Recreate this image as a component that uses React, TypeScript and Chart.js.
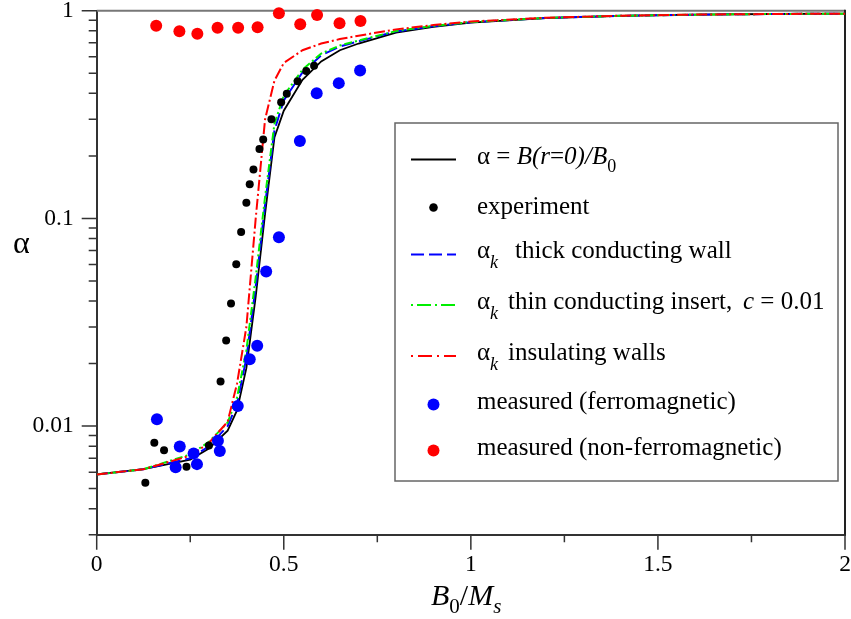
import React, { useEffect, useRef } from "react";
import { Chart, registerables } from "chart.js";

Chart.register(...registerables);

// Theoretical curves, sampled at these values of B0/Ms
const fieldRatio = [0, 0.125, 0.25, 0.3, 0.35, 0.375, 0.4, 0.425, 0.45, 0.475, 0.5, 0.55, 0.6, 0.65, 0.7, 0.8, 0.9, 1.0, 1.2, 1.4, 1.6, 1.8, 2.0];
const alphaAxis = [0.00585, 0.0062, 0.0069, 0.0078, 0.0095, 0.0119, 0.019, 0.042, 0.105, 0.245, 0.33, 0.465, 0.57, 0.645, 0.695, 0.785, 0.835, 0.876, 0.92, 0.944, 0.957, 0.964, 0.968];
const alphaThickWall = [0.00585, 0.0062, 0.007, 0.008, 0.01, 0.0128, 0.0212, 0.047, 0.116, 0.265, 0.37, 0.505, 0.61, 0.672, 0.712, 0.795, 0.842, 0.88, 0.922, 0.945, 0.957, 0.964, 0.968];
const alphaThinInsert = [0.00585, 0.0062, 0.0073, 0.0084, 0.0104, 0.0137, 0.0232, 0.052, 0.127, 0.285, 0.39, 0.52, 0.622, 0.68, 0.718, 0.798, 0.845, 0.882, 0.923, 0.945, 0.957, 0.964, 0.968];
const alphaInsulating = [0.00585, 0.0062, 0.0072, 0.0083, 0.0105, 0.016, 0.03, 0.1, 0.3, 0.46, 0.56, 0.645, 0.695, 0.73, 0.758, 0.813, 0.853, 0.887, 0.925, 0.946, 0.958, 0.964, 0.968];

// Measurements
const experimentB = [0.13, 0.154, 0.18, 0.24, 0.3, 0.331, 0.346, 0.359, 0.373, 0.386, 0.4, 0.409, 0.419, 0.435, 0.445, 0.467, 0.493, 0.508, 0.537, 0.56, 0.581];
const experimentAlpha = [0.00533, 0.00832, 0.00766, 0.00637, 0.00807, 0.0164, 0.0258, 0.0389, 0.0601, 0.0861, 0.119, 0.146, 0.172, 0.216, 0.24, 0.3, 0.362, 0.398, 0.458, 0.512, 0.543];
const ferroB = [0.161, 0.211, 0.222, 0.259, 0.268, 0.324, 0.329, 0.377, 0.409, 0.429, 0.453, 0.487, 0.543, 0.588, 0.647, 0.704];
const ferroAlpha = [0.0108, 0.00634, 0.00798, 0.00739, 0.00656, 0.00851, 0.00758, 0.01248, 0.021, 0.0244, 0.0555, 0.0812, 0.236, 0.4, 0.448, 0.516];
const nonFerroB = [0.159, 0.221, 0.269, 0.323, 0.378, 0.43, 0.487, 0.544, 0.589, 0.649, 0.705];
const nonFerroAlpha = [0.847, 0.796, 0.775, 0.828, 0.828, 0.832, 0.972, 0.86, 0.953, 0.87, 0.892];

// Axis ticks
const xMajorTicks = [0, 0.5, 1, 1.5, 2];
const xTickLabels = ["0", "0.5", "1", "1.5", "2"];
const xMinorTicks = [0.25, 0.75, 1.25, 1.75];
const yMajorTicks = [0.01, 0.1, 1];
const yTickLabels = ["0.01", "0.1", "1"];
const yMinorTicks = [
  0.003, 0.004, 0.005, 0.006, 0.007, 0.008, 0.009,
  0.02, 0.03, 0.04, 0.05, 0.06, 0.07, 0.08, 0.09,
  0.2, 0.3, 0.4, 0.5, 0.6, 0.7, 0.8, 0.9,
];

const SERIF = "'Liberation Serif', 'Times New Roman', serif";
const BLUE = "#0000ff";
const GREEN = "#00ee00";
const RED = "#ff0000";

const DASH_THICK = [13, 5];
const DASH_THIN = [8, 3, 2, 3];
const DASH_INSUL = [11, 3, 2, 3];

type Run = { t: string; italic?: boolean; size?: number; dy?: number; at?: number };

function drawRuns(ctx: CanvasRenderingContext2D, x: number, y: number, runs: Run[]) {
  let cx = x;
  for (const r of runs) {
    if (r.at !== undefined) cx = r.at;
    ctx.font = `${r.italic ? "italic " : ""}${r.size ?? 25}px ${SERIF}`;
    ctx.fillText(r.t, cx, y + (r.dy ?? 0));
    cx += ctx.measureText(r.t).width;
  }
}

const pts = (xs: number[], ys: number[]) => xs.map((x, i) => ({ x, y: ys[i] }));

const framePlugin = {
  id: "frameTicks",
  beforeDatasetsDraw(chart: any) {
    const { ctx, chartArea } = chart;
    const { left, right, top, bottom } = chartArea;
    const xs = chart.scales.x;
    const ys = chart.scales.y;
    ctx.save();
    // top edge of the frame
    ctx.strokeStyle = "#777";
    ctx.lineWidth = 2;
    ctx.beginPath();
    ctx.moveTo(left, top);
    ctx.lineTo(right, top);
    ctx.stroke();
    // right edge
    ctx.strokeStyle = "#222";
    ctx.beginPath();
    ctx.moveTo(right, top - 1);
    ctx.lineTo(right, bottom);
    ctx.stroke();
    // tick marks, outside the plot
    ctx.strokeStyle = "#333";
    ctx.lineWidth = 1.5;
    ctx.beginPath();
    for (const v of xMajorTicks) {
      const p = xs.getPixelForValue(v);
      ctx.moveTo(p, bottom);
      ctx.lineTo(p, bottom + 15);
    }
    for (const v of xMinorTicks) {
      const p = xs.getPixelForValue(v);
      ctx.moveTo(p, bottom);
      ctx.lineTo(p, bottom + 7.5);
    }
    for (const v of yMajorTicks) {
      const p = ys.getPixelForValue(v);
      ctx.moveTo(left - 15, p);
      ctx.lineTo(left, p);
    }
    for (const v of yMinorTicks) {
      const p = ys.getPixelForValue(v);
      ctx.moveTo(left - 8, p);
      ctx.lineTo(left, p);
    }
    ctx.stroke();
    ctx.restore();
  },
  afterDraw(chart: any) {
    const { ctx } = chart;
    ctx.save();
    ctx.fillStyle = "#000";
    ctx.textBaseline = "alphabetic";
    ctx.textAlign = "left";

    // axis titles
    drawRuns(ctx, 431, 605, [
      { t: "B", italic: true, size: 30 },
      { t: "0", size: 21, dy: 8 },
      { t: "/", size: 30 },
      { t: "M", italic: true, size: 30 },
      { t: "s", italic: true, size: 21, dy: 8 },
    ]);
    drawRuns(ctx, 13, 253, [{ t: "α", size: 32 }]);

    // legend box
    const bx = 395, by = 123, bw = 443, bh = 358;
    ctx.fillStyle = "#fff";
    ctx.fillRect(bx, by, bw, bh);
    ctx.strokeStyle = "#666";
    ctx.lineWidth = 1.5;
    ctx.strokeRect(bx, by, bw, bh);

    const sx0 = 411, sx1 = 456, tx = 477;
    const sample = (y: number, color: string, dash: number[], width: number) => {
      ctx.save();
      ctx.strokeStyle = color;
      ctx.lineWidth = width;
      ctx.setLineDash(dash);
      ctx.beginPath();
      ctx.moveTo(sx0, y);
      ctx.lineTo(sx1, y);
      ctx.stroke();
      ctx.restore();
    };
    const dot = (y: number, color: string, r: number) => {
      ctx.fillStyle = color;
      ctx.beginPath();
      ctx.arc(433.5, y, r, 0, Math.PI * 2);
      ctx.fill();
    };

    sample(159.5, "#000", [], 1.8);
    sample(254.5, BLUE, DASH_THICK, 2);
    sample(305, GREEN, [2, 4, 14, 4], 2);
    sample(356, RED, [2, 5, 14, 5], 2);
    dot(207.5, "#000", 4.3);
    dot(404.5, BLUE, 6);
    dot(450.5, RED, 6);

    ctx.fillStyle = "#000";
    drawRuns(ctx, tx, 164, [
      { t: "α = " },
      { t: "B(r", italic: true },
      { t: "=" },
      { t: "0)/B", italic: true },
      { t: "0", size: 18, dy: 8 },
    ]);
    drawRuns(ctx, tx, 214, [{ t: "experiment" }]);
    drawRuns(ctx, tx, 258, [
      { t: "α" },
      { t: "k", italic: true, size: 18, dy: 10 },
      { t: "thick conducting wall", at: 515 },
    ]);
    drawRuns(ctx, tx, 309, [
      { t: "α" },
      { t: "k", italic: true, size: 18, dy: 10 },
      { t: "thin conducting insert,", at: 508 },
      { t: "c", italic: true, at: 743 },
      { t: " = 0.01" },
    ]);
    drawRuns(ctx, tx, 360, [
      { t: "α" },
      { t: "k", italic: true, size: 18, dy: 10 },
      { t: "insulating walls", at: 508 },
    ]);
    drawRuns(ctx, tx, 409, [{ t: "measured (ferromagnetic)" }]);
    drawRuns(ctx, tx, 455, [{ t: "measured (non-ferromagnetic)" }]);
    ctx.restore();
  },
};

export default function App() {
  const canvasRef = useRef<HTMLCanvasElement | null>(null);

  useEffect(() => {
    const canvas = canvasRef.current;
    if (!canvas) return;
    const tickFont = { family: SERIF, size: 23.5, lineHeight: 1 };

    const curve = (label: string, ys: number[], color: string, dash: number[], width: number) => ({
      label,
      data: pts(fieldRatio, ys),
      borderColor: color,
      borderWidth: width,
      borderDash: dash,
      pointRadius: 0,
      tension: 0,
      fill: false,
      order: 2,
    });
    const markers = (label: string, xs: number[], ys: number[], color: string, r: number) => ({
      label,
      data: pts(xs, ys),
      showLine: false,
      pointRadius: r,
      pointBorderWidth: 0,
      pointBackgroundColor: color,
      backgroundColor: color,
      borderColor: color,
      clip: false as any,
      order: 1,
    });

    const chart = new Chart(canvas, {
      type: "line",
      data: {
        datasets: [
          markers("measured (non-ferromagnetic)", nonFerroB, nonFerroAlpha, RED, 6),
          markers("measured (ferromagnetic)", ferroB, ferroAlpha, BLUE, 6),
          markers("experiment", experimentB, experimentAlpha, "#000", 4),
          curve("α_k insulating walls", alphaInsulating, RED, DASH_INSUL, 2),
          curve("α_k thin conducting insert", alphaThinInsert, GREEN, DASH_THIN, 2),
          curve("α_k thick conducting wall", alphaThickWall, BLUE, DASH_THICK, 2),
          curve("α = B(r=0)/B0", alphaAxis, "#000", [], 1.8),
        ] as any,
      },
      options: {
        responsive: false,
        animation: false,
        devicePixelRatio: 1,
        layout: { padding: { left: 0, top: 10.7, right: 6, bottom: 0 } },
        plugins: { legend: { display: false }, tooltip: { enabled: false } },
        scales: {
          x: {
            type: "linear",
            position: "bottom",
            min: 0,
            max: 2,
            afterBuildTicks: (s: any) => {
              s.ticks = xMajorTicks.map((value) => ({ value }));
            },
            afterFit: (s: any) => {
              s.height = 84.3;
              s.paddingLeft = 0;
              s.paddingRight = 0;
            },
            grid: { display: false, drawTicks: true, tickLength: 15 },
            border: { display: true, color: "#333", width: 2 },
            ticks: {
              autoSkip: false,
              maxRotation: 0,
              padding: 3,
              color: "#000",
              font: tickFont,
              callback: (_v: any, i: number) => xTickLabels[i],
            },
          },
          y: {
            type: "logarithmic",
            position: "left",
            min: 0.003,
            max: 1,
            afterBuildTicks: (s: any) => {
              s.ticks = yMajorTicks.map((value) => ({ value }));
            },
            afterFit: (s: any) => {
              s.width = 96.7;
              s.paddingTop = 0;
              s.paddingBottom = 0;
            },
            grid: { display: false, drawTicks: true, tickLength: 15 },
            border: { display: true, color: "#333", width: 2 },
            ticks: {
              autoSkip: false,
              padding: 8,
              color: "#000",
              font: tickFont,
              callback: (_v: any, i: number) => yTickLabels[i],
            },
          },
        },
      } as any,
      plugins: [framePlugin],
    });

    return () => chart.destroy();
  }, []);

  return (
    <div style={{ position: "fixed", left: 0, top: 0, width: 851, height: 619, background: "#fff" }}>
      <canvas ref={canvasRef} width={851} height={619} style={{ width: 851, height: 619, display: "block" }} />
    </div>
  );
}
